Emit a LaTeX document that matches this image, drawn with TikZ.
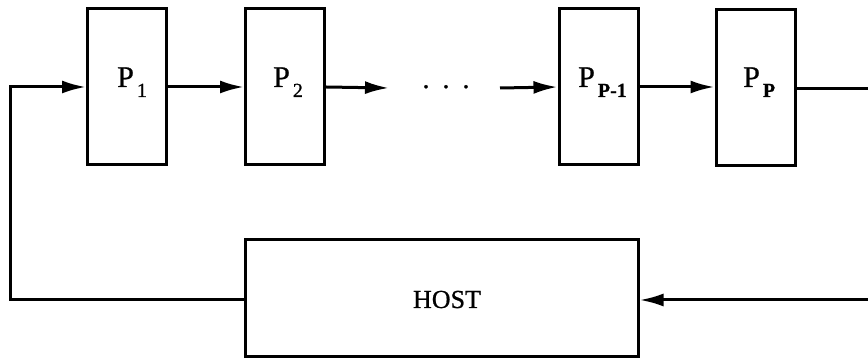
\documentclass[tikz,border=0pt]{standalone}
\usepackage{fontspec}
\setmainfont{Liberation Serif}
\newfontfamily\heavyfont{Liberation Serif}[FakeBold=0.8]
\usetikzlibrary{arrows.meta}
\newcommand{\plab}[1]{P\hspace{3pt}\raisebox{-10pt}{\fontsize{20}{20}\selectfont #1}}
\begin{document}
\begin{tikzpicture}[x=1pt,y=1pt,
  proc/.style={draw,line width=3pt,minimum width=79pt,minimum height=156pt,inner sep=0pt},
  hostbox/.style={draw,line width=3pt,minimum width=393pt,minimum height=117pt,inner sep=0pt},
  lab/.style={anchor=base west,inner sep=0pt,font=\fontsize{30}{30}\selectfont\heavyfont},
  conn/.style={line width=3pt},
  arr/.style={conn,-{Latex[length=24pt,width=13pt]}}]
\useasboundingbox (0,0) rectangle (868,361);
% boxes
\node[proc] (p1) at (127,274) {};
\node[proc] (p2) at (285,274) {};
\node[proc] (pp1) at (598.5,274) {};
\node[proc] (pp) at (755.5,273) {};
\node[hostbox] (host) at (441.5,62.5) {};
% labels
\node[lab] (l1) at (117,274) {\plab{1}};
\node[lab] (l2) at (273,274) {\plab{2}};
\node[lab] (l3) at (578,274) {\plab{\bfseries P-1}};
\node[lab] (l4) at (743,274) {\plab{\bfseries P}};
\node[anchor=base,inner sep=0pt,font=\fontsize{26}{26}\selectfont\heavyfont] (hl) at (447,53) {HOST};
\node[anchor=base,inner sep=0pt,font=\fontsize{28}{28}\selectfont\heavyfont] (dots) at (446,273) {.\hspace{13pt}.\hspace{13pt}.};
% coordinates
\coordinate (cl) at (10,61);
\coordinate (d1) at (389,273);
\coordinate (d2) at (500,273);
\coordinate (r1) at (868,272);
\coordinate (r2) at (868,61);
% connectors
\draw[arr] (host.west |- cl) -- (cl) |- (p1.west);
\draw[arr] (p1.east) -- (p2.west);
\draw[arr] (p2.east) -- (d1);
\draw[arr] (d2) -- (pp1.west);
\draw[arr] (pp1.east) -- (pp.west |- pp1.east);
\draw[conn] (pp.east |- r1) -- (r1);
\draw[arr] (r2) -- (host.east |- r2);
\end{tikzpicture}
\end{document}
